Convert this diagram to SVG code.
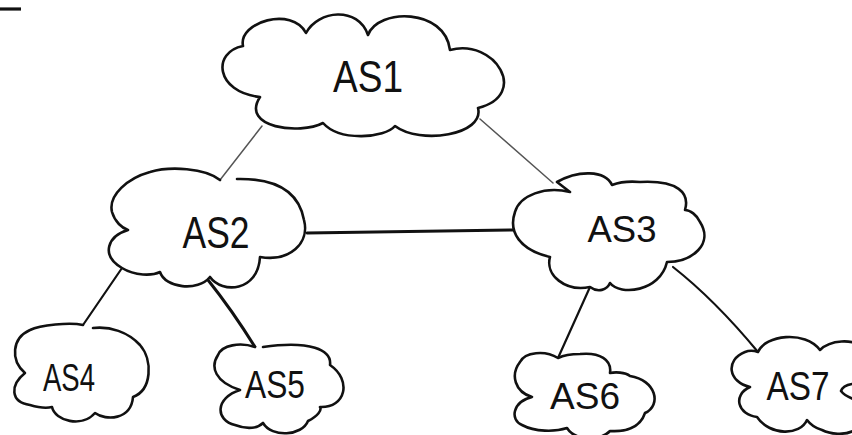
<svg xmlns="http://www.w3.org/2000/svg" width="852" height="435" viewBox="0 0 852 435">
  <style>
    .cloud { fill: #fff; stroke: #111; stroke-width: 2.6; stroke-linejoin: round; stroke-linecap: round; }
    .label { font-family: "Liberation Sans", "DejaVu Sans", sans-serif; fill: #111; text-anchor: middle; }
    .link { fill: none; stroke: #111; stroke-linecap: round; }
    .thin { stroke: #555; stroke-width: 1.5; }
    .mid { stroke-width: 2.2; }
    .bold { stroke-width: 3; }
  </style>

  <rect width="852" height="435" fill="#fff"/>

  <!-- short pen mark in the top-left corner -->
  <line x1="0" y1="9" x2="21" y2="9" stroke="#111" stroke-width="3.2"/>

  <g id="connectors">
    <path class="link thin" d="M262,126 L220,180"/>
    <path class="link thin" d="M480,119 L553,183"/>
    <path class="link bold" d="M307,233 L515,230"/>
    <path class="link mid" d="M122,268 L83,325"/>
    <path class="link bold" d="M208,280 Q232,310 255,347"/>
    <path class="link mid" d="M590,287 L558,358"/>
    <path class="link mid" d="M673,267 Q715,300 758,352"/>
  </g>

  <g id="as1">
    <path class="cloud" d="M243,46 C238,22 292,6 306,33 C318,10 358,6 368,35 C378,8 445,8 450,50 C495,38 530,95 478,108 C485,135 420,145 395,126 C385,138 340,142 323,123 C300,135 240,128 260,97 C215,92 212,52 243,46 Z"/>
    <text class="label" x="368" y="92" font-size="44" textLength="70" lengthAdjust="spacingAndGlyphs">AS1</text>
  </g>

  <g id="as2">
    <path class="cloud" d="M220,180 C205,168 170,166 150,172 C128,178 108,195 112,212 C115,222 122,228 128,230 C108,236 100,255 122,268 C135,276 152,276 160,272 C165,288 198,292 210,277 C222,294 258,292 260,257 C290,262 310,243 304,220 C300,198 285,178 237,179"/>
    <text class="label" x="216" y="248" font-size="44" textLength="67" lengthAdjust="spacingAndGlyphs">AS2</text>
  </g>

  <g id="as3">
    <path class="cloud" d="M570,192 C545,186 520,195 515,212 C508,232 520,250 550,257 C545,275 565,292 590,287 C598,293 607,290 610,283 C620,296 660,292 667,262 C692,262 714,244 700,222 C697,215 690,210 685,210 C690,193 678,180 640,182 C630,181 620,182 612,185 C605,170 578,170 557,182 Z"/>
    <text class="label" x="622" y="242" font-size="36" textLength="69" lengthAdjust="spacingAndGlyphs">AS3</text>
  </g>

  <g id="as4">
    <path class="cloud" d="M83,325 C70,322 40,325 30,330 C12,338 10,360 25,373 C10,385 10,402 30,405 C40,408 48,408 52,407 C55,421 82,428 95,413 C106,421 131,420 133,397 C152,390 153,360 140,345 C128,332 110,326 93,328"/>
    <text class="label" x="69" y="391" font-size="38" textLength="52" lengthAdjust="spacingAndGlyphs">AS4</text>
  </g>

  <g id="as5">
    <path class="cloud" d="M255,347 C240,342 222,345 218,355 C210,367 215,382 240,390 C215,398 215,420 235,425 C248,430 258,428 263,423 C272,438 302,436 308,421 C318,416 322,410 320,407 C346,408 352,380 330,365 C332,350 310,340 263,347"/>
    <text class="label" x="275" y="398" font-size="38" textLength="60" lengthAdjust="spacingAndGlyphs">AS5</text>
  </g>

  <g id="as6">
    <path class="cloud" d="M558,358 C545,350 525,352 520,362 C510,375 515,392 532,397 C512,402 510,420 522,425 C535,432 555,432 567,428 C575,441 600,441 610,431 C625,432 640,428 645,413 C662,405 656,380 630,376 C625,372 615,372 610,373 C612,360 600,352 580,354 C570,354 562,356 558,358 Z"/>
    <text class="label" x="585" y="409" font-size="36" textLength="70" lengthAdjust="spacingAndGlyphs">AS6</text>
  </g>

  <g id="as7">
    <path class="cloud" d="M758,352 C765,335 805,330 820,350 C830,340 852,338 866,348 C878,362 872,382 852,384 C846,385 842,388 841,391 C844,395 850,398 856,400 C874,410 870,428 855,430 C845,436 830,434 822,430 C815,428 810,424 807,420 C800,436 770,436 757,417 C738,415 732,395 750,387 C728,382 725,360 745,352 C750,350 755,351 758,352 Z"/>
    <text class="label" x="798" y="400" font-size="40" textLength="63" lengthAdjust="spacingAndGlyphs">AS7</text>
  </g>
</svg>
